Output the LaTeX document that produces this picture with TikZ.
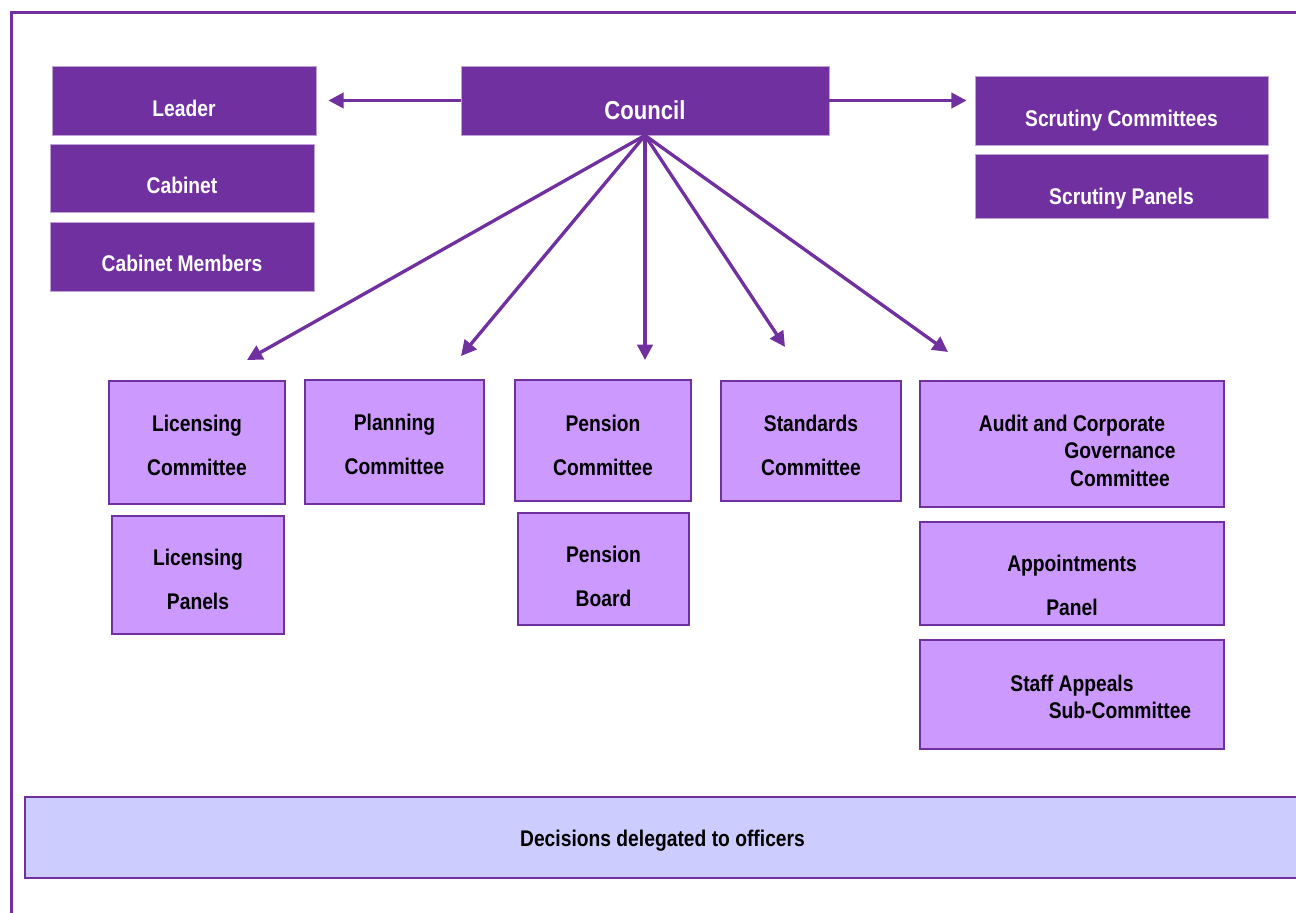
\documentclass[tikz,border=0pt]{standalone}
\usepackage{fontspec}
\setmainfont{Liberation Sans}[FakeStretch=0.85]
\usetikzlibrary{arrows.meta}
\definecolor{councilpurple}{HTML}{7030A0}
\definecolor{lilac}{HTML}{CC99FF}
\definecolor{officerblue}{HTML}{CCCCFF}
\newcommand{\boxdrop}[1]{\rule{0pt}{#1}}

\begin{document}
\begin{tikzpicture}[x=0.75pt, y=-0.75pt,
  darkbox/.style={rectangle, fill=councilpurple, draw=white!55!councilpurple, line width=0.6pt,
    text=white, font=\bfseries\fontsize{17}{20.5}\selectfont, text height=23pt, text depth=0pt},
  lightbox/.style={rectangle, fill=lilac, draw=councilpurple, line width=2.2pt, align=center,
    font=\bfseries\fontsize{17}{20.5}\selectfont},
  arr/.style={councilpurple, line width=2.5pt, -{Triangle[length=11.5pt, width=11.5pt]}}]
\useasboundingbox (0,0) rectangle (1296,913);
\draw[councilpurple, line width=2.25pt] (1296,13) -- (11,13) -- (11,913);

\node[darkbox, minimum width=198pt, minimum height=51.75pt, text height=24pt] (leader) at (184,100.5) {Leader};
\node[darkbox, minimum width=198pt, minimum height=51pt] (cabinet) at (182,178) {Cabinet};
\node[darkbox, minimum width=198pt, minimum height=51.75pt] (cabmembers) at (182,256.5) {Cabinet Members};
\node[darkbox, minimum width=276pt, minimum height=51.75pt, font=\bfseries\fontsize{19.5}{23}\selectfont, text height=28pt] (council) at (645,100.5) {Council};
\node[darkbox, minimum width=219.75pt, minimum height=51.75pt, text height=24pt] (scrcom) at (1121.5,110.5) {Scrutiny Committees};
\node[darkbox, minimum width=219.75pt, minimum height=48pt, text height=28pt] (scrpanels) at (1121.5,186) {Scrutiny Panels};

\node[lightbox, minimum width=132pt, minimum height=92.25pt] (liccom) at (197,442.5) {\boxdrop{17pt}Licensing\\[12.5pt]Committee};
\node[lightbox, minimum width=129pt, minimum height=88.5pt] (licpanels) at (198,575) {\boxdrop{19.5pt}Licensing\\[12.5pt]Panels};
\node[lightbox, minimum width=134.25pt, minimum height=93pt] (planning) at (394.5,442) {\boxdrop{15.5pt}Planning\\[12.5pt]Committee};
\node[lightbox, minimum width=132pt, minimum height=90.75pt] (pencom) at (603,440.5) {\boxdrop{19.5pt}Pension\\[12.5pt]Committee};
\node[lightbox, minimum width=128.25pt, minimum height=84pt] (penboard) at (603.5,569) {\boxdrop{24pt}Pension\\[12.5pt]Board};
\node[lightbox, minimum width=135pt, minimum height=90pt] (standards) at (811,441) {\boxdrop{18.5pt}Standards\\[12.5pt]Committee};
\node[lightbox, minimum width=228pt, minimum height=94.5pt] (audit) at (1072,444) {\boxdrop{22.5pt}Audit and Corporate\\\hspace*{72pt}Governance\\\hspace*{72pt}Committee};
\node[lightbox, minimum width=228pt, minimum height=77.25pt] (appoint) at (1072,573.5) {\boxdrop{30pt}Appointments\\[12.5pt]Panel};
\node[lightbox, minimum width=228pt, minimum height=81.75pt] (appeals) at (1072,694.5) {\boxdrop{15.5pt}Staff Appeals\\\hspace*{72pt}Sub-Committee};

\node[lightbox, fill=officerblue, minimum width=956.25pt, minimum height=60.75pt] (officers) at (662.5,837.5) {\boxdrop{17pt}Decisions delegated to officers};

\draw[arr, shorten >=9pt] (council.west) -- (council.west -| leader.east);
\draw[arr, shorten >=6pt] (council.east) -- (council.east -| scrcom.west);

\coordinate (to-lic) at (247,360);
\coordinate (to-plan) at (461,356);
\coordinate (to-pen) at (645,360);
\coordinate (to-std) at (785,347);
\coordinate (to-audit) at (948,352);
\foreach \t in {to-lic, to-plan, to-pen, to-std, to-audit}
  \draw[arr] (council.south) -- (\t);
\end{tikzpicture}
\end{document}
